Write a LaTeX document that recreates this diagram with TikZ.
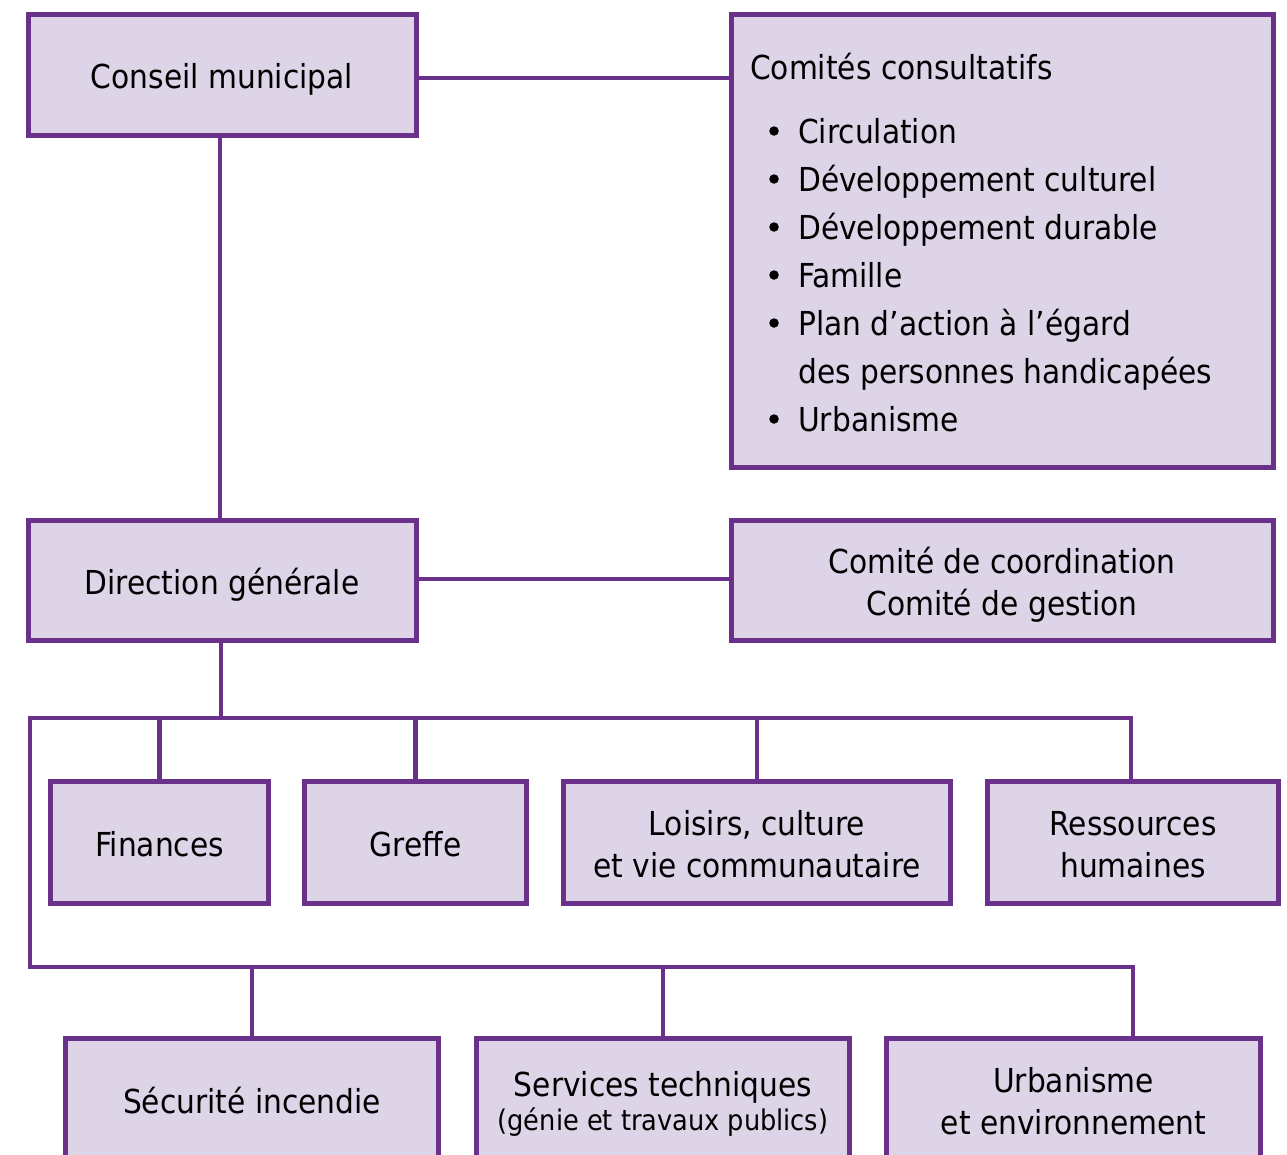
\documentclass[tikz,border=0pt]{standalone}
\usepackage{fontspec}
\setmainfont{DejaVu Sans Condensed}
\definecolor{bordcol}{RGB}{106,49,138}
\definecolor{fillcol}{RGB}{221,212,232}
\newcommand\bst{\rule{0pt}{27.5pt}}
\tikzset{
  box/.style={draw=bordcol, fill=fillcol, line width=5pt, rectangle, inner sep=0pt,
     align=center, text depth=0pt, font=\fontsize{33}{42}\selectfont},
  conn/.style={draw=bordcol, line width=4.5pt},
  listtxt/.style={anchor=base west, inner sep=0pt, font=\fontsize{33}{41}\selectfont},
  bul/.style={circle, fill=black, inner sep=0pt, minimum size=9.5pt},
}
\begin{document}
\begin{tikzpicture}[x=1pt,y=-1pt]
\clip (0,0) rectangle (1287,1154);
% boxes
\node[box, minimum width=388pt, minimum height=121pt] (cm) at (222,74.5) {\bst Conseil municipal};
\node[box, minimum width=542pt, minimum height=453pt] (cc) at (1002,240.5) {};
\node[box, minimum width=388pt, minimum height=120pt] (dg) at (222,580.5) {\bst Direction générale};
\node[box, minimum width=542pt, minimum height=120pt] (cg) at (1002,580.5) {\bst Comité de coordination\\Comité de gestion};
\node[box, minimum width=218pt, minimum height=122pt] (fin) at (159.5,842.5) {\bst Finances};
\node[box, minimum width=222pt, minimum height=122pt] (gre) at (415.5,842.5) {\bst Greffe};
\node[box, minimum width=387pt, minimum height=122pt] (loi) at (757,842.5) {\bst Loisirs, culture\\et vie communautaire};
\node[box, minimum width=291pt, minimum height=122pt] (res) at (1133,842.5) {\bst Ressources\\humaines};
\node[box, minimum width=373pt, minimum height=122pt] (sec) at (252,1099.5) {\bst Sécurité incendie};
\node[box, minimum width=373pt, minimum height=122pt] (ser) at (663,1099.5) {\bst Services techniques\\[-8pt]{\fontsize{28.5}{32}\selectfont(génie et travaux publics)}};
\node[box, minimum width=374pt, minimum height=122pt] (urb) at (1073.5,1099.5) {\bst Urbanisme\\et environnement};
% list in Comités consultatifs
\node[listtxt] (t0) at (750,79) {Comités consultatifs};
\foreach \i/\y/\t in {1/143/Circulation, 2/191/Développement culturel, 3/239/Développement durable, 4/287/Famille, 5/335/Plan d’action à l’égard, 7/431/Urbanisme}{
  \node[bul] (b\i) at (774,\y-12) {};
  \node[listtxt] (l\i) at (798,\y) {\t};
}
\node[listtxt] (l6) at (798,383) {des personnes handicapées};
% connectors
\coordinate (busL) at (30,718);
\coordinate (busR) at (1131,718);
\coordinate (bus2L) at (30,967);
\coordinate (bus2R) at (1133,967);
\draw[conn] ([yshift=-3.5pt]cm.east) -- ([yshift=-3.5pt]cm.east -| cc.west);
\draw[conn] ([xshift=-2pt]cm.south) -- ([xshift=-2pt]dg.north);
\draw[conn] ([yshift=1.5pt]dg.east) -- ([yshift=1.5pt]dg.east -| cg.west);
\draw[conn] ([xshift=-1pt]dg.south) -- ([xshift=-1pt]dg.south |- busL);
\draw[conn] (busR |- res.north) -- (busR) -- (busL) -- (bus2L) -- (bus2R) -- (bus2R |- urb.north);
\draw[conn] (fin.north) -- (fin.north |- busL);
\draw[conn] (gre.north) -- (gre.north |- busL);
\draw[conn] (loi.north) -- (loi.north |- busL);
\draw[conn] (sec.north) -- (sec.north |- bus2L);
\draw[conn] (ser.north) -- (ser.north |- bus2L);
\end{tikzpicture}
\end{document}
